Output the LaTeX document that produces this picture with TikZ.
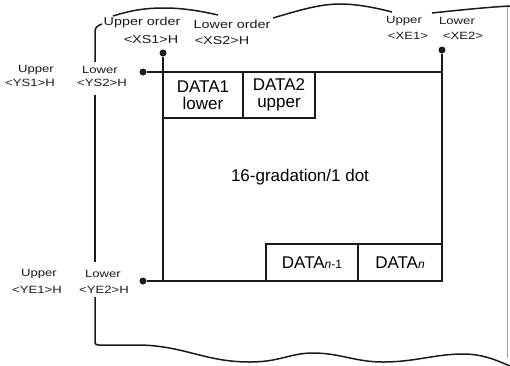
\documentclass[tikz,border=0pt]{standalone}
\usepackage{fontspec}
\setsansfont{Liberation Sans}
\newfontfamily\labelfont[FakeStretch=1.25]{Liberation Sans}
\usetikzlibrary{positioning}
\definecolor{cink}{HTML}{1A1A1A}
\definecolor{cpaper}{HTML}{A0A0A0}
\newcommand{\idx}[1]{{\fontsize{12}{12}\selectfont #1}}
\tikzset{
  every picture/.style={font=\sffamily, line width=1.6pt},
  cell/.style={draw=cink, line width=1.9pt, outer sep=0pt, inner sep=2pt, align=center, font=\sffamily\fontsize{17}{17}\selectfont},
  wire/.style={draw=cink, line width=2.2pt},
  dot/.style={fill=cink, circle, inner sep=0pt, minimum size=7pt},
  paper/.style={draw=cink, line width=1.5pt},
  tag/.style={font=\labelfont\fontsize{10.5}{10.5}\selectfont, text=cink, inner sep=1pt},
  bigtag/.style={tag, font=\labelfont\fontsize{11.5}{11.5}\selectfont},
}

\begin{document}
\begin{tikzpicture}[x=1pt, y=-1pt]
  \useasboundingbox (0,0) rectangle (510,365);
  % sheet outline
  \draw[paper] (95,297) -- (95,343) to[out=-90, in=180] (99,345) -- (140,345) .. controls (185,346) and (205,362) .. (250,362) .. controls (280,362) and (290,353) .. (313,353) .. controls (340,353) and (355,362) .. (383,362) .. controls (415,362) and (435,354) .. (463,354) .. controls (485,354) and (500,362) .. (510,366);
  \draw[paper] (95,262) -- (95,95);
  \draw[paper] (95,62) -- (95,31) to[out=90, in=200] (102,24);
  \draw[paper] (113,16) .. controls (135,9) and (150,8) .. (165,8) .. controls (185,8) and (205,12) .. (218,15);
  \draw[paper] (273,18) .. controls (300,10) and (320,4) .. (340,4) .. controls (360,4) and (380,9) .. (392,12);
  \draw[paper] (432,13) .. controls (460,10) and (490,7) .. (510,6);
  \draw[paper, draw=cpaper, line width=0.8pt] (507,7) -- (507,358);

  % start/end points
  \node[dot] (xs) at (163,53) {};
  \node[dot] (ys) at (143,72) {};
  \node[dot] (xe) at (442,50) {};
  \node[dot] (ye) at (143,281) {};

  % data cells
  \node[cell, minimum width=80pt, minimum height=46pt, anchor=north west] (data1) at (163,72) {DATA1\\lower};
  \node[cell, minimum width=72pt, minimum height=46pt, right=0pt of data1] (data2) {DATA2\\upper};
  \node[cell, minimum width=84pt, minimum height=37pt, anchor=south east] (datan) at (442,281) {DATA\idx{\itshape n}};
  \node[cell, minimum width=92pt, minimum height=37pt, left=0pt of datan] (datan1) {DATA\idx{\itshape n}\idx{-1}};
  \node[font=\sffamily\fontsize{17}{17}\selectfont] (grad) at (300,177) {16-gradation/1 dot};

  \draw[wire] (ys) -- (ys -| xe);
  \draw[wire] (xs) -- (xs |- ye);
  \draw[wire] (xe) -- (datan.north east);
  \draw[wire] (ye) -- (datan1.south west);

  % address labels
  \node[bigtag] (xs1up) at (142,23) {Upper order};
  \node[bigtag] (xs1) at (151,40) {<XS1>H};
  \node[bigtag] (xs2lo) at (232,24) {Lower order};
  \node[bigtag] (xs2) at (222,41) {<XS2>H};
  \node[tag] (xe1up) at (404,21) {Upper};
  \node[tag] (xe2lo) at (457,21) {Lower};
  \node[tag] (xe1) at (408,36) {<XE1>};
  \node[tag] (xe2) at (463,36) {<XE2>};
  \node[tag] (ys1up) at (36,70) {Upper};
  \node[tag] (ys1) at (30,83) {<YS1>H};
  \node[tag] (ys2lo) at (100,70) {Lower};
  \node[tag] (ys2) at (102,83) {<YS2>H};
  \node[tag] (ye1up) at (39,274) {Upper};
  \node[tag] (ye1) at (37,290) {<YE1>H};
  \node[tag] (ye2lo) at (103,274) {Lower};
  \node[tag] (ye2) at (104,290) {<YE2>H};
\end{tikzpicture}
\end{document}
